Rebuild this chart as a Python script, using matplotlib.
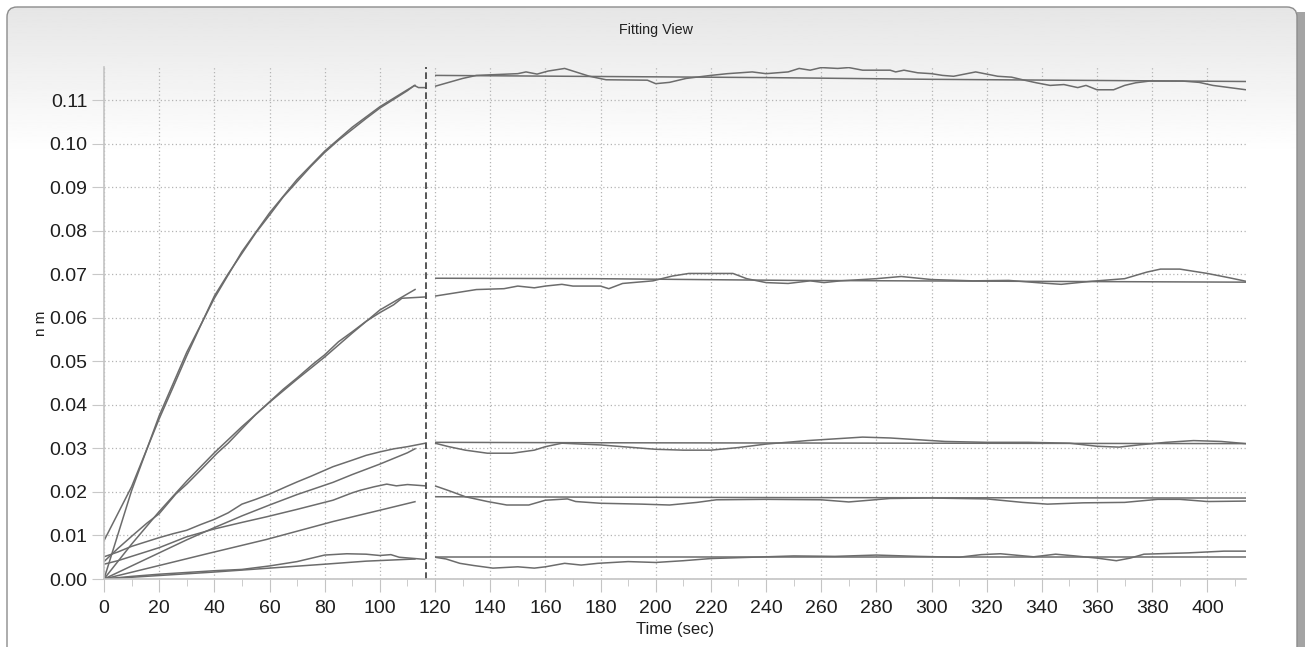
import numpy as np
import matplotlib.pyplot as plt
from matplotlib.patches import FancyBboxPatch, Rectangle
from matplotlib.ticker import MultipleLocator, FormatStrFormatter

plt.rcParams['font.family'] = ['Liberation Sans', 'DejaVu Sans']

# association / dissociation boundary (sec)
step_switch = 116.8

# --- association phase: measured traces (time, nm)
a_assoc = [(0, 0.0088), (5, 0.0150), (10, 0.0212), (15, 0.0290), (20, 0.0368), (25, 0.0440),
           (30, 0.0513), (35, 0.0582), (40, 0.0650), (45, 0.0701), (50, 0.0748), (55, 0.0795),
           (60, 0.0836), (65, 0.0878), (70, 0.0913), (75, 0.0948), (80, 0.0980), (85, 0.1008),
           (90, 0.1033), (95, 0.1058), (100, 0.1082), (105, 0.1102), (110, 0.1122),
           (112.5, 0.1134), (114, 0.1129), (116.5, 0.1129)]
b_assoc = [(0, 0.0040), (5, 0.0070), (10, 0.0098), (15.5, 0.0128), (20, 0.0150), (26, 0.0195),
           (30, 0.0218), (35, 0.0250), (41, 0.0289), (45, 0.0312), (50, 0.0345), (55, 0.0378),
           (60, 0.0407), (65, 0.0436), (70, 0.0462), (76, 0.0495), (80, 0.0515), (85, 0.0545),
           (90, 0.0568), (95, 0.0592), (100, 0.0612), (105, 0.0630), (108, 0.0645),
           (116.5, 0.0648)]
c_assoc = [(0, 0.0051), (5, 0.0062), (10, 0.0075), (15, 0.0085), (20, 0.0095), (25, 0.0104),
           (30, 0.0112), (35, 0.0125), (40, 0.0137), (45, 0.0152), (50, 0.0172), (55, 0.0183),
           (60, 0.0195), (66, 0.0212), (70, 0.0223), (75, 0.0236), (83, 0.0258), (90, 0.0273),
           (95, 0.0284), (100, 0.0292), (105, 0.0299), (110, 0.0304), (116.5, 0.0312)]
d_assoc = [(0, 0.0034), (5, 0.0042), (10, 0.0052), (20, 0.0072), (30, 0.0097), (40, 0.0115),
           (50, 0.0130), (59, 0.0143), (70, 0.0160), (83, 0.0181), (90, 0.0198), (93, 0.0204),
           (98, 0.0212), (102.5, 0.0218), (106, 0.0214), (110, 0.0217), (116.5, 0.0214)]
e_assoc = [(0, 0.0), (10, 0.0006), (20, 0.0011), (30, 0.0015), (40, 0.0019), (50, 0.0022),
           (60, 0.0030), (70, 0.0040), (80, 0.0055), (88, 0.0058), (95, 0.0057), (100, 0.0054),
           (104, 0.0056), (107, 0.0050), (116.5, 0.0045)]

# --- association phase: fitted curves
a_assoc_fit = [(0, 0.0), (10, 0.0203), (20, 0.0375), (30, 0.0521), (40, 0.0645), (50, 0.0752),
               (60, 0.0841), (70, 0.0918), (80, 0.0983), (90, 0.1038), (100, 0.1085),
               (110, 0.1124), (113, 0.1135)]
b_assoc_fit = [(0, 0.0), (10, 0.0080), (20, 0.0155), (30, 0.0225), (40, 0.0290), (50, 0.0350),
               (60, 0.0406), (70, 0.0459), (80, 0.0510), (90, 0.0565), (100, 0.0618),
               (110, 0.0655), (113, 0.0666)]
c_assoc_fit = [(0, 0.0), (10, 0.0030), (20, 0.0060), (30, 0.0090), (40, 0.0118), (50, 0.0145),
               (60, 0.0170), (70, 0.0194), (83, 0.0222), (90, 0.0240), (100, 0.0264),
               (110, 0.0290), (113, 0.0300)]
d_assoc_fit = [(0, 0.0), (20, 0.0031), (38, 0.0059), (59, 0.0091), (83, 0.0132), (100, 0.0158),
               (113, 0.0178)]
e_assoc_fit = [(0, 0.0), (20, 0.0008), (40, 0.0016), (60, 0.0025), (80, 0.0034), (95, 0.0041),
               (113, 0.0046)]

# --- dissociation phase: measured traces
a_diss = [(120, 0.1132), (125, 0.1141), (130, 0.1150), (135, 0.1157), (150, 0.1161),
          (153, 0.1165), (157, 0.1160), (161, 0.1167), (167, 0.1173), (173, 0.1161),
          (176, 0.1155), (182, 0.1147), (197, 0.1146), (200, 0.1138), (205, 0.1141),
          (211, 0.1150), (220, 0.1157), (226, 0.1161), (235, 0.1165), (240, 0.1161),
          (248, 0.1165), (252, 0.1173), (256, 0.1169), (260, 0.1175), (266, 0.1173),
          (270, 0.1175), (275, 0.1169), (285, 0.1169), (287, 0.1165), (290, 0.1169),
          (295, 0.1163), (300, 0.1161), (304, 0.1157), (308, 0.1155), (312, 0.1160),
          (316, 0.1165), (320, 0.1160), (324, 0.1155), (329, 0.1153), (333, 0.1147),
          (338, 0.1140), (343, 0.1134), (348, 0.1136), (353, 0.1129), (356, 0.1134),
          (360, 0.1124), (366, 0.1124), (370, 0.1134), (374, 0.1140), (379, 0.1144),
          (391, 0.1144), (397, 0.1141), (402, 0.1134), (408, 0.1129), (414, 0.1124)]
b_diss = [(120, 0.0650), (127, 0.0657), (135, 0.0665), (145, 0.0667), (150, 0.0673),
          (156, 0.0669), (160, 0.0673), (166, 0.0677), (170, 0.0673), (180, 0.0673),
          (183, 0.0667), (188, 0.0679), (199, 0.0685), (206, 0.0696), (212, 0.0702),
          (228, 0.0702), (233, 0.0690), (240, 0.0681), (248, 0.0679), (256, 0.0685),
          (261, 0.0681), (267, 0.0685), (280, 0.0690), (289, 0.0695), (300, 0.0688),
          (315, 0.0685), (328, 0.0686), (340, 0.0680), (347, 0.0677), (358, 0.0684),
          (370, 0.0690), (378, 0.0705), (383, 0.0712), (390, 0.0712), (400, 0.0702),
          (408, 0.0692), (414, 0.0684)]
c_diss = [(120, 0.0312), (125, 0.0304), (131, 0.0296), (139, 0.0289), (148, 0.0289),
          (156, 0.0296), (160, 0.0304), (166, 0.0312), (180, 0.0308), (190, 0.0303),
          (200, 0.0298), (210, 0.0296), (220, 0.0296), (230, 0.0302), (240, 0.0310),
          (255, 0.0318), (265, 0.0322), (275, 0.0326), (285, 0.0324), (295, 0.0320),
          (305, 0.0316), (320, 0.0314), (335, 0.0314), (350, 0.0312), (360, 0.0305),
          (368, 0.0303), (375, 0.0308), (385, 0.0314), (395, 0.0318), (405, 0.0316),
          (414, 0.0311)]
d_diss = [(120, 0.0214), (125, 0.0203), (131, 0.0189), (139, 0.0178), (146, 0.0170),
          (154, 0.0170), (160, 0.0181), (168, 0.0184), (171, 0.0178), (180, 0.0174),
          (195, 0.0172), (205, 0.0170), (215, 0.0176), (222, 0.0182), (240, 0.0183),
          (260, 0.0182), (270, 0.0177), (285, 0.0185), (300, 0.0186), (320, 0.0184),
          (333, 0.0176), (342, 0.0172), (355, 0.0175), (370, 0.0176), (382, 0.0183),
          (390, 0.0183), (400, 0.0178), (414, 0.0179)]
e_diss = [(120, 0.0050), (124, 0.0046), (129, 0.0036), (134, 0.0031), (141, 0.0025),
          (150, 0.0028), (156, 0.0025), (160, 0.0028), (167, 0.0036), (173, 0.0032),
          (179, 0.0036), (190, 0.0040), (200, 0.0038), (210, 0.0042), (220, 0.0047),
          (235, 0.0050), (250, 0.0053), (265, 0.0052), (280, 0.0055), (295, 0.0052),
          (310, 0.0050), (318, 0.0056), (325, 0.0058), (337, 0.0051), (345, 0.0057),
          (352, 0.0053), (360, 0.0048), (367, 0.0042), (372, 0.0048), (377, 0.0057),
          (393, 0.0060), (406, 0.0064), (414, 0.0064)]

# --- dissociation phase: fitted curves
a_diss_fit = [(120, 0.1157), (240, 0.1152), (300, 0.1148), (414, 0.1143)]
b_diss_fit = [(120, 0.0691), (178, 0.0690), (250, 0.0686), (330, 0.0684), (414, 0.0682)]
c_diss_fit = [(120, 0.0314), (180, 0.0313), (300, 0.0312), (414, 0.0311)]
d_diss_fit = [(120, 0.0189), (250, 0.0187), (414, 0.0186)]
e_diss_fit = [(120, 0.0050), (414, 0.0050)]

traces = [a_assoc, b_assoc, c_assoc, d_assoc, e_assoc,
          a_assoc_fit, b_assoc_fit, c_assoc_fit, d_assoc_fit, e_assoc_fit,
          a_diss, b_diss, c_diss, d_diss, e_diss,
          a_diss_fit, b_diss_fit, c_diss_fit, d_diss_fit, e_diss_fit]

W, H = 1311, 647
fig = plt.figure(figsize=(W / 100, H / 100), dpi=100)
fig.patch.set_facecolor('white')

# window frame with the grey-to-white header gradient
bg = fig.add_axes([0, 0, 1, 1])
bg.set_xlim(0, W)
bg.set_ylim(H, 0)
bg.axis('off')
bg.add_patch(Rectangle((1297, 12), 8, H, fc='#a4a4a4', ec='none'))
panel = FancyBboxPatch((7, 7), 1290, H + 20, boxstyle='round,pad=0,rounding_size=10',
                       fc='none', ec='#8c8c8c', lw=1.0, zorder=3)
bg.add_patch(panel)
shade = np.ones((H + 30, 1))
shade[:150, 0] = np.linspace(0.90, 1.0, 150)
img = bg.imshow(shade, cmap='gray', vmin=0, vmax=1, aspect='auto',
                extent=(7, 1297, H + 23, 7), zorder=1)
img.set_clip_path(panel)

fig.text(656 / W, 1 - 30 / H, 'Fitting View', ha='center', va='center',
         fontsize=10.3, color='#202020')

ax = fig.add_axes([104 / W, 1 - 579 / H, (1246 - 104) / W, (579 - 66.7) / H])
ax.patch.set_alpha(0)
ax.set_xlim(0, 414)
ax.set_ylim(0, 0.1177)

line_color = '#6c6c6c'
for tr in traces:
    t = [p[0] for p in tr]
    v = [p[1] for p in tr]
    ax.plot(t, v, color=line_color, lw=1.1, solid_capstyle='butt')

ax.axvline(step_switch, color='#3a3a3a', lw=1.2, ls=(0, (4, 2)))

ax.xaxis.set_major_locator(MultipleLocator(20))
ax.xaxis.set_minor_locator(MultipleLocator(10))
ax.yaxis.set_major_locator(MultipleLocator(0.01))
ax.yaxis.set_major_formatter(FormatStrFormatter('%.2f'))
ax.grid(True, which='major', linestyle=(0, (1, 2)), color='#b4b4b4', lw=0.9)

for side in ('top', 'right'):
    ax.spines[side].set_visible(False)
for side in ('left', 'bottom'):
    ax.spines[side].set_color('#c4c4c4')
    ax.spines[side].set_linewidth(1.2)

ax.tick_params(axis='x', which='major', length=9, color='#c4c4c4', labelsize=14,
               labelcolor='#1e1e1e', pad=6)
ax.tick_params(axis='x', which='minor', length=5, color='#c4c4c4')
ax.tick_params(axis='y', which='major', length=9, color='#c8c8c8', labelsize=14,
               labelcolor='#1e1e1e', pad=3)

ax.set_xlabel('Time (sec)', fontsize=12, color='#1e1e1e', labelpad=4)
ax.set_ylabel('n m', fontsize=11, color='#1e1e1e', labelpad=1)

fig.savefig('out.png', dpi=100)
